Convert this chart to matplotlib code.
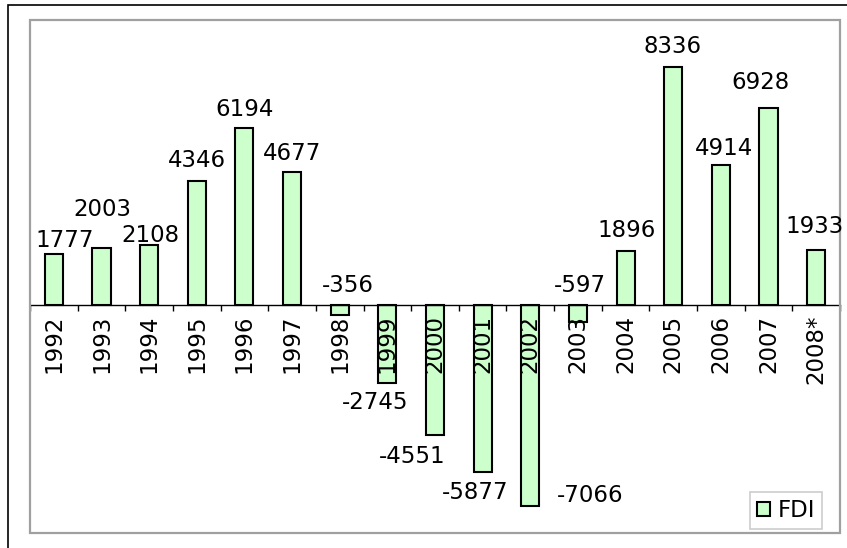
import numpy as np
import matplotlib.pyplot as plt
from matplotlib.patches import Rectangle

plt.rcParams['font.family'] = 'DejaVu Sans'

years = ['1992', '1993', '1994', '1995', '1996', '1997', '1998', '1999', '2000',
         '2001', '2002', '2003', '2004', '2005', '2006', '2007', '2008*']
fdi = [1777, 2003, 2108, 4346, 6194, 4677, -356, -2745, -4551,
       -5877, -7066, -597, 1896, 8336, 4914, 6928, 1933]

# hand-placed data labels: (dx, dy) in pixels from the end of each bar, dy upwards
label_nudge = [(11, 15), (1, 40), (1, 11), (0, 22), (0, 20), (0, 20), (8, 31),
               (-12, -18), (-23, -20), (-7, -19), (60, 12), (2, 38),
               (1, 22), (-1, 22), (3, 18), (-8, 27), (-2, 25)]

W, H, DPI = 847, 548, 100
FS = 16.5
fig = plt.figure(figsize=(W / DPI, H / DPI), dpi=DPI)
ax = fig.add_axes([30 / W, 15 / H, 810 / W, 513 / H])

x = np.arange(len(years))
bars = ax.bar(x, fdi, width=0.38, color='#CCFFCC', edgecolor='black',
              linewidth=1.5, zorder=2, label='FDI')

ax.set_xlim(-0.5, len(years) - 0.5)
ax.set_ylim(-8000, 10000)
ax.set_axisbelow(False)  # year labels sit on top of the negative bars

# plot area frame in grey, category axis through zero
for side in ['top', 'left', 'right']:
    ax.spines[side].set_visible(False)
ax.spines['bottom'].set_position(('data', 0))
ax.spines['bottom'].set_linewidth(1.0)
ax.add_patch(Rectangle((0, 0), 1, 1, transform=ax.transAxes, fill=False,
                       edgecolor='#A0A0A0', linewidth=1.6, clip_on=False, zorder=3))

ax.set_yticks([])
ax.set_xticks(x)
ax.set_xticklabels(years, rotation=90, fontsize=FS)
ax.tick_params(axis='x', which='major', length=0, pad=7)
ax.set_xticks(np.arange(len(years) + 1) - 0.5, minor=True)
ax.tick_params(axis='x', which='minor', length=4, width=1, direction='out')

# value labels
half_h = 8
for xi, v, (dx, dy) in zip(x, fdi, label_nudge):
    ax.annotate(str(v), xy=(xi, v), xytext=(dx * 72 / DPI, (dy - half_h) * 72 / DPI),
                textcoords='offset points', ha='center', va='baseline',
                fontsize=FS, annotation_clip=False, zorder=4)

leg = ax.legend(handles=[bars], loc='lower right', bbox_to_anchor=(822 / W, 19 / H),
                bbox_transform=fig.transFigure, fontsize=FS, frameon=True,
                fancybox=False, handlelength=0.55, handleheight=0.55,
                handletextpad=0.35, borderpad=0.3, borderaxespad=0)
leg.get_frame().set_edgecolor('#C0C0C0')
leg.get_frame().set_linewidth(1.2)

# outer chart border
fig.patches.append(Rectangle((8 / W, -0.5), 1.0, 0.5 + 1 - 5 / H,
                             transform=fig.transFigure, fill=False,
                             edgecolor='black', linewidth=1.2))

fig.savefig('out.png', dpi=DPI)
